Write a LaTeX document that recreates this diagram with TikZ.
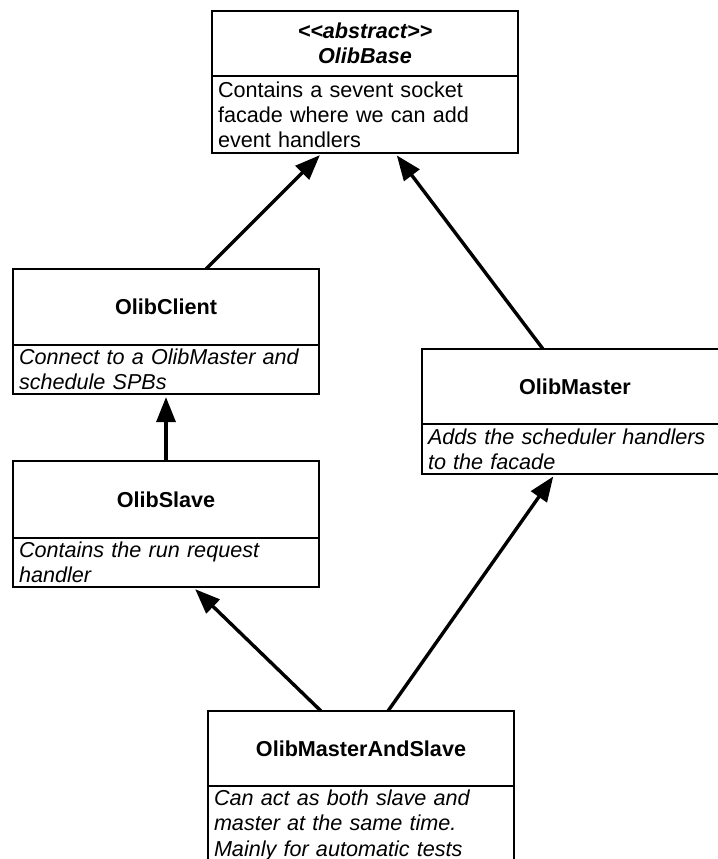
\documentclass[tikz,border=0pt]{standalone}
\usepackage{fontspec}
\setmainfont{Liberation Sans}
\usetikzlibrary{positioning,arrows.meta}

\newcommand\umlfont{\fontsize{10.8}{12.6}\selectfont}

\tikzset{
  classhead/.style={draw, line width=0.65pt, outer sep=0pt, anchor=north west,
    minimum width=153pt, minimum height=#1, align=center, font=\umlfont\bfseries},
  classbody/.style={draw, line width=0.65pt, outer sep=0pt, text width=147pt,
    inner xsep=3pt, inner ysep=2pt, minimum height=#1, align=left, font=\umlfont\itshape},
  inherits/.style={-{Triangle[length=12.5pt,width=9.5pt]}, line width=1.7pt, shorten >=1.5pt}
}

\begin{document}
\begin{tikzpicture}[x=0.5pt, y=-0.5pt]
    \useasboundingbox (0,0) rectangle (718,859);

    \node[classhead=32.5pt] (basehead) at (212,11)
        {\textit{<\kern0pt<abstract>\kern0pt>}\\\textit{OlibBase}};
    \node[classbody=38.5pt, below=0pt of basehead, font=\umlfont] (basebody)
        {Contains a sevent socket\\facade where we can add\\event handlers};

    \node[classhead=38pt] (clienthead) at (13,269) {OlibClient};
    \node[classbody=24.5pt, below=0pt of clienthead] (clientbody)
        {Connect to a OlibMaster and\\schedule SPBs};

    \node[classhead=37.5pt] (masterhead) at (422,349) {OlibMaster};
    \node[classbody=25pt, below=0pt of masterhead] (masterbody)
        {Adds the scheduler handlers\\to the facade};

    \node[classhead=38.5pt] (slavehead) at (13,461) {OlibSlave};
    \node[classbody=24pt, below=0pt of slavehead] (slavebody)
        {Contains the run request\\handler};

    \node[classhead=37.5pt] (bothhead) at (208,711) {OlibMasterAndSlave};
    \node[classbody=38pt, below=0pt of bothhead] (bothbody)
        {Can act as both slave and\\master at the same time.\\Mainly for automatic tests};

    % generalisations
    \draw[inherits] ([xshift=20pt]clienthead.north) -- ([xshift=-21.5pt]basebody.south);
    \draw[inherits] ([xshift=-16pt]masterhead.north) -- ([xshift=15pt]basebody.south);
    \draw[inherits] (slavehead.north) -- (clientbody.south);
    \draw[inherits] ([xshift=-20pt]bothhead.north) -- ([xshift=13.5pt]slavebody.south);
    \draw[inherits] ([xshift=13.5pt]bothhead.north) -- ([xshift=-10pt]masterbody.south);
\end{tikzpicture}
\end{document}
